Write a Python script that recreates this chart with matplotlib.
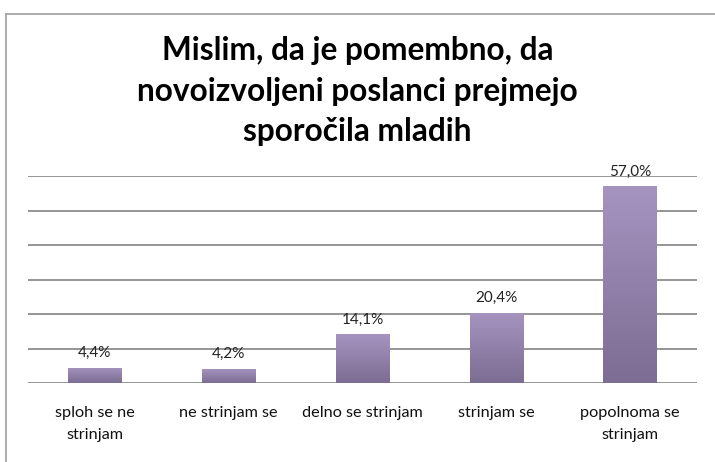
import matplotlib
matplotlib.use("Agg")
import matplotlib.pyplot as plt
import numpy as np
from matplotlib.lines import Line2D
from matplotlib.colors import LinearSegmentedColormap

categories = ["sploh se ne\nstrinjam", "ne strinjam se", "delno se strinjam",
              "strinjam se", "popolnoma se\nstrinjam"]
values = [4.4, 4.2, 14.1, 20.4, 57.0]
value_labels = ["4,4%", "4,2%", "14,1%", "20,4%", "57,0%"]
title = "Mislim, da je pomembno, da\nnovoizvoljeni poslanci prejmejo\nsporočila mladih"

plt.rcParams['font.family'] = ['Lato', 'DejaVu Sans']

fig = plt.figure(figsize=(7.15, 4.62), dpi=100)
ax = fig.add_axes([28/715, 1 - 383/462, 669/715, 207/462])

x = np.arange(len(values))
bars = ax.bar(x, values, width=0.4, color="none", edgecolor="none", zorder=3)

# vertical gradient inside each bar
grad_cmap = LinearSegmentedColormap.from_list("purp", ["#7c6d93", "#a694c0"])
grad = np.linspace(0, 1, 256).reshape(-1, 1)
for b in bars:
    x0, w, h = b.get_x(), b.get_width(), b.get_height()
    im = ax.imshow(grad, cmap=grad_cmap, aspect="auto", origin="lower",
                   extent=[x0, x0 + w, 0, h], zorder=3)
    im.set_clip_path(b)

for xi, v, lab in zip(x, values, value_labels):
    ax.text(xi, v + 2.2, lab, ha="center", va="bottom", fontsize=11, color="#222222")

ax.set_xlim(-0.5, len(values) - 0.5)
ax.set_ylim(0, 60)
ax.set_yticks(np.arange(0, 61, 10))
ax.yaxis.grid(True, color="#8c8c8c", linewidth=1.3)
ax.set_axisbelow(True)
ax.tick_params(axis="y", left=False, labelleft=False)
ax.tick_params(axis="x", bottom=False, pad=13)
ax.set_xticks(x, categories, fontsize=11.7, color="#111111", linespacing=1.75)
for s in ax.spines.values():
    s.set_visible(False)

fig.text(0.5, 1 - 91/462, title, ha="center", va="center", fontsize=22.8,
         fontweight="bold", linespacing=1.48)

# outer chart border
fig.add_artist(Line2D([6/715, 6/715], [0, 1 - 14/462], color="#a6a6a6", linewidth=1.3))
fig.add_artist(Line2D([6/715, 1], [1 - 14/462, 1 - 14/462], color="#a6a6a6", linewidth=1.3))

fig.savefig("out.png", dpi=100)
